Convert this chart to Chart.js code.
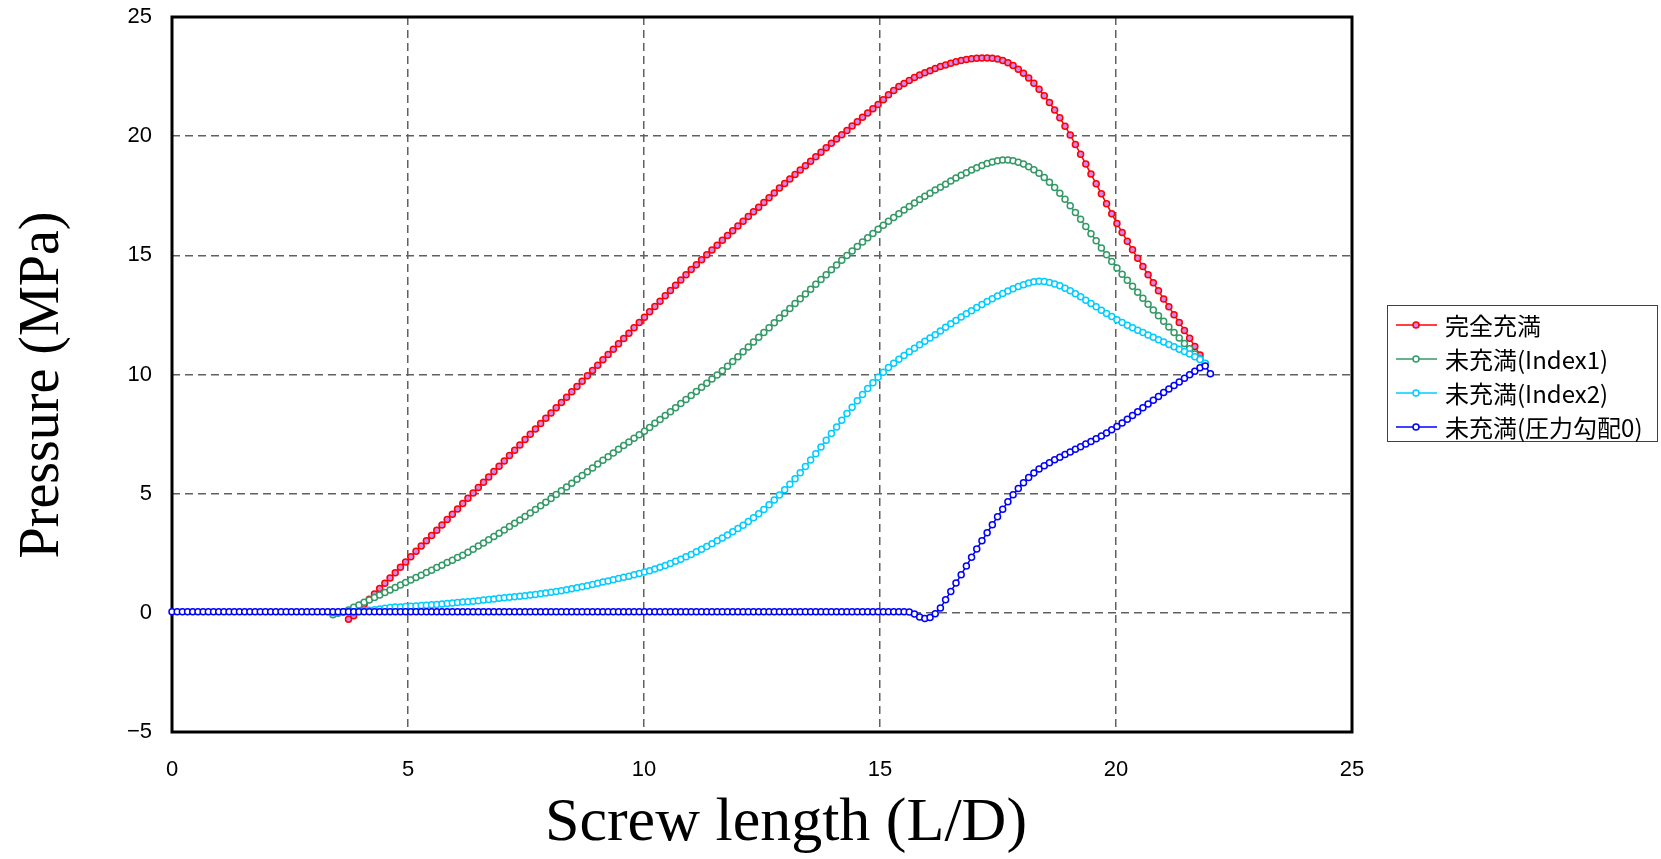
<!DOCTYPE html>
<html>
<head>
<meta charset="utf-8">
<script src="https://cdn.jsdelivr.net/npm/chart.js@4.4.1/dist/chart.umd.min.js"></script>
<style>
body { margin: 0; background: #fff; }
</style>
</head>
<body>
<canvas id="myChart" width="1661" height="859"></canvas>
<script>
// data
const screwLength = [
0, 0.11, 0.22, 0.33, 0.44, 0.55, 0.66, 0.77, 0.88, 0.99,
1.1, 1.21, 1.32, 1.43, 1.54, 1.65, 1.76, 1.87, 1.98, 2.09,
2.2, 2.31, 2.42, 2.53, 2.64, 2.75, 2.86, 2.97, 3.08, 3.19,
3.3, 3.41, 3.52, 3.63, 3.74, 3.85, 3.96, 4.07, 4.18, 4.29,
4.4, 4.51, 4.62, 4.73, 4.84, 4.95, 5.06, 5.17, 5.28, 5.39,
5.5, 5.61, 5.72, 5.83, 5.94, 6.05, 6.16, 6.27, 6.38, 6.49,
6.6, 6.71, 6.82, 6.93, 7.04, 7.15, 7.26, 7.37, 7.48, 7.59,
7.7, 7.81, 7.92, 8.03, 8.14, 8.25, 8.36, 8.47, 8.58, 8.69,
8.8, 8.91, 9.02, 9.13, 9.24, 9.35, 9.46, 9.57, 9.68, 9.79,
9.9, 10.01, 10.12, 10.23, 10.34, 10.45, 10.56, 10.67, 10.78, 10.89,
11, 11.11, 11.22, 11.33, 11.44, 11.55, 11.66, 11.77, 11.88, 11.99,
12.1, 12.21, 12.32, 12.43, 12.54, 12.65, 12.76, 12.87, 12.98, 13.09,
13.2, 13.31, 13.42, 13.53, 13.64, 13.75, 13.86, 13.97, 14.08, 14.19,
14.3, 14.41, 14.52, 14.63, 14.74, 14.85, 14.96, 15.07, 15.18, 15.29,
15.4, 15.51, 15.62, 15.73, 15.84, 15.95, 16.06, 16.17, 16.28, 16.39,
16.5, 16.61, 16.72, 16.83, 16.94, 17.05, 17.16, 17.27, 17.38, 17.49,
17.6, 17.71, 17.82, 17.93, 18.04, 18.15, 18.26, 18.37, 18.48, 18.59,
18.7, 18.81, 18.92, 19.03, 19.14, 19.25, 19.36, 19.47, 19.58, 19.69,
19.8, 19.91, 20.02, 20.13, 20.24, 20.35, 20.46, 20.57, 20.68, 20.79,
20.9, 21.01, 21.12, 21.23, 21.34, 21.45, 21.56, 21.67, 21.78, 21.89,
22
];

const fullFill = [
null, null, null, null, null, null, null, null, null, null,
null, null, null, null, null, null, null, null, null, null,
null, null, null, null, null, null, null, null, null, null,
null, null, null, null, -0.27, -0.12, 0.12, 0.35, 0.57, 0.79,
1.02, 1.24, 1.46, 1.68, 1.91, 2.13, 2.35, 2.58, 2.80, 3.02,
3.25, 3.47, 3.69, 3.92, 4.14, 4.36, 4.59, 4.81, 5.03, 5.26,
5.48, 5.70, 5.93, 6.15, 6.37, 6.60, 6.82, 7.04, 7.27, 7.49,
7.71, 7.94, 8.16, 8.38, 8.61, 8.83, 9.05, 9.28, 9.50, 9.72,
9.95, 10.17, 10.39, 10.62, 10.84, 11.06, 11.29, 11.51, 11.73, 11.96,
12.18, 12.40, 12.63, 12.85, 13.07, 13.30, 13.52, 13.74, 13.97, 14.19,
14.41, 14.61, 14.81, 15.02, 15.22, 15.42, 15.63, 15.83, 16.03, 16.23,
16.43, 16.63, 16.83, 17.02, 17.22, 17.42, 17.62, 17.82, 18.01, 18.20,
18.39, 18.58, 18.76, 18.95, 19.14, 19.33, 19.51, 19.70, 19.88, 20.06,
20.24, 20.43, 20.61, 20.79, 20.97, 21.15, 21.33, 21.53, 21.74, 21.92,
22.08, 22.21, 22.34, 22.46, 22.57, 22.66, 22.75, 22.84, 22.92, 22.99,
23.06, 23.12, 23.18, 23.22, 23.25, 23.27, 23.28, 23.28, 23.27, 23.24,
23.17, 23.08, 22.96, 22.81, 22.64, 22.44, 22.22, 21.97, 21.70, 21.41,
21.10, 20.77, 20.42, 20.05, 19.65, 19.24, 18.83, 18.41, 18.00, 17.58,
17.16, 16.75, 16.34, 15.96, 15.59, 15.23, 14.88, 14.53, 14.19, 13.85,
13.51, 13.17, 12.84, 12.51, 12.18, 11.85, 11.52, 11.18, 10.82, 10.45,
null
];

const partIndex1 = [
null, null, null, null, null, null, null, null, null, null,
null, null, null, null, null, null, null, null, null, null,
null, null, null, null, null, null, null, null, null, null,
null, -0.08, -0.02, 0.05, 0.12, 0.23, 0.33, 0.44, 0.54, 0.64,
0.75, 0.85, 0.96, 1.06, 1.17, 1.27, 1.38, 1.48, 1.58, 1.69,
1.79, 1.90, 2.00, 2.11, 2.21, 2.32, 2.42, 2.54, 2.67, 2.80,
2.93, 3.07, 3.20, 3.34, 3.48, 3.62, 3.76, 3.90, 4.04, 4.19,
4.34, 4.49, 4.64, 4.80, 4.96, 5.12, 5.28, 5.44, 5.60, 5.76,
5.92, 6.08, 6.24, 6.40, 6.55, 6.71, 6.86, 7.02, 7.17, 7.32,
7.47, 7.62, 7.78, 7.95, 8.11, 8.28, 8.44, 8.61, 8.78, 8.95,
9.12, 9.29, 9.46, 9.63, 9.81, 9.98, 10.16, 10.35, 10.55, 10.75,
10.95, 11.15, 11.36, 11.56, 11.76, 11.96, 12.17, 12.37, 12.57, 12.77,
12.98, 13.18, 13.38, 13.58, 13.79, 13.99, 14.19, 14.39, 14.59, 14.79,
14.99, 15.18, 15.37, 15.56, 15.74, 15.92, 16.09, 16.26, 16.43, 16.59,
16.75, 16.90, 17.05, 17.20, 17.34, 17.48, 17.61, 17.74, 17.86, 17.98,
18.12, 18.24, 18.36, 18.47, 18.58, 18.68, 18.77, 18.85, 18.92, 18.97,
19.00, 19.00, 18.97, 18.91, 18.83, 18.72, 18.59, 18.44, 18.27, 18.07,
17.85, 17.61, 17.35, 17.08, 16.80, 16.51, 16.21, 15.91, 15.61, 15.31,
15.02, 14.74, 14.47, 14.21, 13.95, 13.70, 13.45, 13.20, 12.95, 12.71,
12.47, 12.23, 11.99, 11.76, 11.53, 11.30, 11.08, 10.86, 10.65, 10.45,
null
];

const partIndex2 = [
null, null, null, null, null, null, null, null, null, null,
null, null, null, null, null, null, null, null, null, null,
null, null, null, null, null, null, null, null, null, null,
null, 0.00, 0.01, 0.02, 0.04, 0.05, 0.07, 0.09, 0.11, 0.13,
0.16, 0.19, 0.22, 0.24, 0.25, 0.27, 0.28, 0.29, 0.31, 0.32,
0.34, 0.35, 0.37, 0.39, 0.41, 0.43, 0.45, 0.47, 0.49, 0.51,
0.54, 0.56, 0.58, 0.61, 0.63, 0.65, 0.67, 0.70, 0.72, 0.75,
0.77, 0.80, 0.83, 0.86, 0.89, 0.93, 0.97, 1.01, 1.05, 1.09,
1.14, 1.19, 1.24, 1.29, 1.34, 1.39, 1.44, 1.49, 1.54, 1.60,
1.65, 1.71, 1.77, 1.84, 1.91, 1.99, 2.07, 2.16, 2.25, 2.35,
2.45, 2.56, 2.67, 2.78, 2.90, 3.02, 3.14, 3.27, 3.40, 3.54,
3.68, 3.83, 3.99, 4.16, 4.34, 4.53, 4.73, 4.94, 5.16, 5.39,
5.63, 5.88, 6.14, 6.41, 6.68, 6.96, 7.24, 7.52, 7.80, 8.08,
8.36, 8.63, 8.90, 9.16, 9.41, 9.65, 9.88, 10.09, 10.29, 10.47,
10.64, 10.80, 10.95, 11.10, 11.25, 11.39, 11.53, 11.67, 11.83, 11.98,
12.13, 12.27, 12.41, 12.55, 12.68, 12.81, 12.94, 13.06, 13.18, 13.29,
13.40, 13.50, 13.60, 13.69, 13.77, 13.84, 13.89, 13.91, 13.90, 13.86,
13.80, 13.72, 13.62, 13.51, 13.39, 13.26, 13.12, 12.98, 12.84, 12.70,
12.56, 12.43, 12.30, 12.18, 12.07, 11.96, 11.86, 11.76, 11.66, 11.56,
11.46, 11.36, 11.26, 11.16, 11.06, 10.96, 10.86, 10.75, 10.63, 10.47,
null
];

const partGrad0 = [
0.05, 0.05, 0.05, 0.05, 0.05, 0.05, 0.05, 0.05, 0.05, 0.05,
0.05, 0.05, 0.05, 0.05, 0.05, 0.05, 0.05, 0.05, 0.05, 0.05,
0.05, 0.05, 0.05, 0.05, 0.05, 0.05, 0.05, 0.05, 0.05, 0.05,
0.05, 0.05, 0.05, 0.05, 0.05, 0.05, 0.05, 0.05, 0.05, 0.05,
0.05, 0.05, 0.05, 0.05, 0.05, 0.05, 0.05, 0.05, 0.05, 0.05,
0.05, 0.05, 0.05, 0.05, 0.05, 0.05, 0.05, 0.05, 0.05, 0.05,
0.05, 0.05, 0.05, 0.05, 0.05, 0.05, 0.05, 0.05, 0.05, 0.05,
0.05, 0.05, 0.05, 0.05, 0.05, 0.05, 0.05, 0.05, 0.05, 0.05,
0.05, 0.05, 0.05, 0.05, 0.05, 0.05, 0.05, 0.05, 0.05, 0.05,
0.05, 0.05, 0.05, 0.05, 0.05, 0.05, 0.05, 0.05, 0.05, 0.05,
0.05, 0.05, 0.05, 0.05, 0.05, 0.05, 0.05, 0.05, 0.05, 0.05,
0.05, 0.05, 0.05, 0.05, 0.05, 0.05, 0.05, 0.05, 0.05, 0.05,
0.05, 0.05, 0.05, 0.05, 0.05, 0.05, 0.05, 0.05, 0.05, 0.05,
0.05, 0.05, 0.05, 0.05, 0.05, 0.05, 0.05, 0.05, 0.05, 0.05,
0.05, 0.05, 0.04, -0.05, -0.17, -0.24, -0.20, -0.04, 0.20, 0.55,
0.90, 1.25, 1.60, 1.97, 2.33, 2.68, 3.02, 3.36, 3.70, 4.03,
4.35, 4.66, 4.95, 5.22, 5.46, 5.68, 5.87, 6.03, 6.17, 6.30,
6.42, 6.53, 6.64, 6.75, 6.86, 6.97, 7.08, 7.19, 7.30, 7.42,
7.55, 7.68, 7.82, 7.97, 8.12, 8.28, 8.44, 8.60, 8.76, 8.92,
9.08, 9.24, 9.39, 9.54, 9.69, 9.84, 9.99, 10.14, 10.28, 10.36,
10.03
];

const seriesNames = ['完全充満', '未充満(Index1)', '未充満(Index2)', '未充満(圧力勾配0)'];
const xTickValues = [0, 5, 10, 15, 20, 25];
const yTickValues = [-5, 0, 5, 10, 15, 20, 25];
const xTitle = 'Screw length (L/D)';
const yTitle = 'Pressure (MPa)';

function toPoints(values){
    return screwLength.map((x, i) => ({x: x, y: values[i]}));
}

const styles = [
    {line: '#ff0000', fill: '#cc88ee'},
    {line: '#339966', fill: '#ffffff'},
    {line: '#00ccff', fill: '#ffffff'},
    {line: '#0000ff', fill: '#ffffff'}
];
const allSeries = [fullFill, partIndex1, partIndex2, partGrad0];

const datasets = allSeries.map((vals, i) => ({
    label: seriesNames[i],
    data: toPoints(vals),
    borderColor: styles[i].line,
    backgroundColor: styles[i].fill,
    pointBackgroundColor: styles[i].fill,
    pointBorderColor: styles[i].line,
    pointRadius: 3,
    pointBorderWidth: 1.5,
    borderWidth: 1.5,
    spanGaps: false,
    clip: false,
    order: 4 - i
}));

// frame, axis titles and legend box
const decor = {
    id: 'decor',
    beforeDatasetsDraw(chart){
        const {ctx, chartArea: a} = chart;
        ctx.save();
        ctx.strokeStyle = '#000';
        ctx.lineWidth = 3;
        ctx.strokeRect(a.left, a.top, a.right - a.left, a.bottom - a.top);
        ctx.restore();
    },
    afterDraw(chart){
        const ctx = chart.ctx;
        ctx.save();
        ctx.fillStyle = '#000';
        ctx.font = '62px "Liberation Serif"';
        ctx.textAlign = 'center';
        ctx.textBaseline = 'alphabetic';
        ctx.fillText(xTitle, 786, 840);

        ctx.save();
        ctx.translate(58, 385);
        ctx.rotate(-Math.PI / 2);
        ctx.font = '56px "Liberation Serif"';
        ctx.fillText(yTitle, 0, 0);
        ctx.restore();

        // legend
        const bx = 1387, by = 305, bw = 270, bh = 136;
        ctx.fillStyle = '#fff';
        ctx.fillRect(bx, by, bw, bh);
        ctx.strokeStyle = '#404040';
        ctx.lineWidth = 1;
        ctx.strokeRect(bx + 0.5, by + 0.5, bw, bh);
        ctx.font = '24px "Noto Sans CJK JP"';
        ctx.textAlign = 'left';
        ctx.textBaseline = 'middle';
        seriesNames.forEach((name, i) => {
            const y = by + 20 + i * 34;
            ctx.strokeStyle = styles[i].line;
            ctx.lineWidth = 1.5;
            ctx.beginPath();
            ctx.moveTo(1396, y);
            ctx.lineTo(1437, y);
            ctx.stroke();
            ctx.beginPath();
            ctx.arc(1416, y, 3, 0, Math.PI * 2);
            ctx.fillStyle = styles[i].fill;
            ctx.fill();
            ctx.stroke();
            ctx.fillStyle = '#000';
            ctx.fillText(name, 1445, y + 1);
        });
        ctx.restore();
    }
};

const tickFont = {family: 'Liberation Sans', size: 22};

const ctx = document.getElementById('myChart').getContext('2d');
const myChart = new Chart(ctx, {
    type: 'line',
    data: { datasets: datasets },
    options: {
        responsive: false,
        animation: false,
        events: [],
        layout: { padding: { left: 0, top: 17, right: 309, bottom: 0 } },
        plugins: {
            legend: { display: false },
            tooltip: { enabled: false }
        },
        scales: {
            x: {
                type: 'linear',
                min: 0,
                max: 25,
                afterBuildTicks: s => { s.ticks = xTickValues.map(v => ({value: v})); },
                afterFit: s => { s.height = 127; s.paddingLeft = 0; s.paddingRight = 0; },
                grid: { color: '#606060', lineWidth: 1.5, drawTicks: false },
                border: { display: false, dash: [8, 5] },
                ticks: { padding: 25, font: tickFont, color: '#000', maxRotation: 0, autoSkip: false }
            },
            y: {
                type: 'linear',
                min: -5,
                max: 25,
                afterBuildTicks: s => { s.ticks = yTickValues.map(v => ({value: v})); },
                afterFit: s => { s.width = 172; s.paddingTop = 0; s.paddingBottom = 0; },
                grid: { color: '#606060', lineWidth: 1.5, drawTicks: false },
                border: { display: false, dash: [8, 5] },
                ticks: {
                    padding: 20, font: tickFont, color: '#000', autoSkip: false,
                    callback: v => v < 0 ? '\u2212' + Math.abs(v) : String(v)
                }
            }
        }
    },
    plugins: [decor]
});
</script>
</body>
</html>
